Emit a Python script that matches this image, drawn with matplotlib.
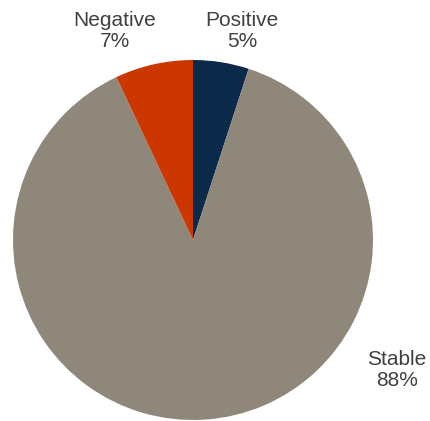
import matplotlib.pyplot as plt

categories = ["Positive", "Stable", "Negative"]
shares = [5, 88, 7]
colors = ["#0b2a4a", "#8e877a", "#cc3700"]

# label anchor points (pixel space, y up)
label_xy = [(242, 390), (397, 51), (115, 390)]

plt.rcParams["font.family"] = ["Liberation Sans", "DejaVu Sans"]

fig = plt.figure(figsize=(4.30, 4.21), dpi=100)
ax = fig.add_axes([0, 0, 1, 1])

ax.pie(shares, colors=colors, startangle=90, counterclock=False,
       center=(193, 181), radius=180, frame=True,
       wedgeprops={"linewidth": 0})
ax.set_xlim(0, 430)
ax.set_ylim(0, 421)
ax.set_aspect("equal")
ax.axis("off")

for name, val, (x, y) in zip(categories, shares, label_xy):
    ax.text(x, y, f"{name}\n{val}%", ha="center", va="center",
            fontsize=15, color="#404040", linespacing=1.08)

fig.savefig("out.png", dpi=100)
